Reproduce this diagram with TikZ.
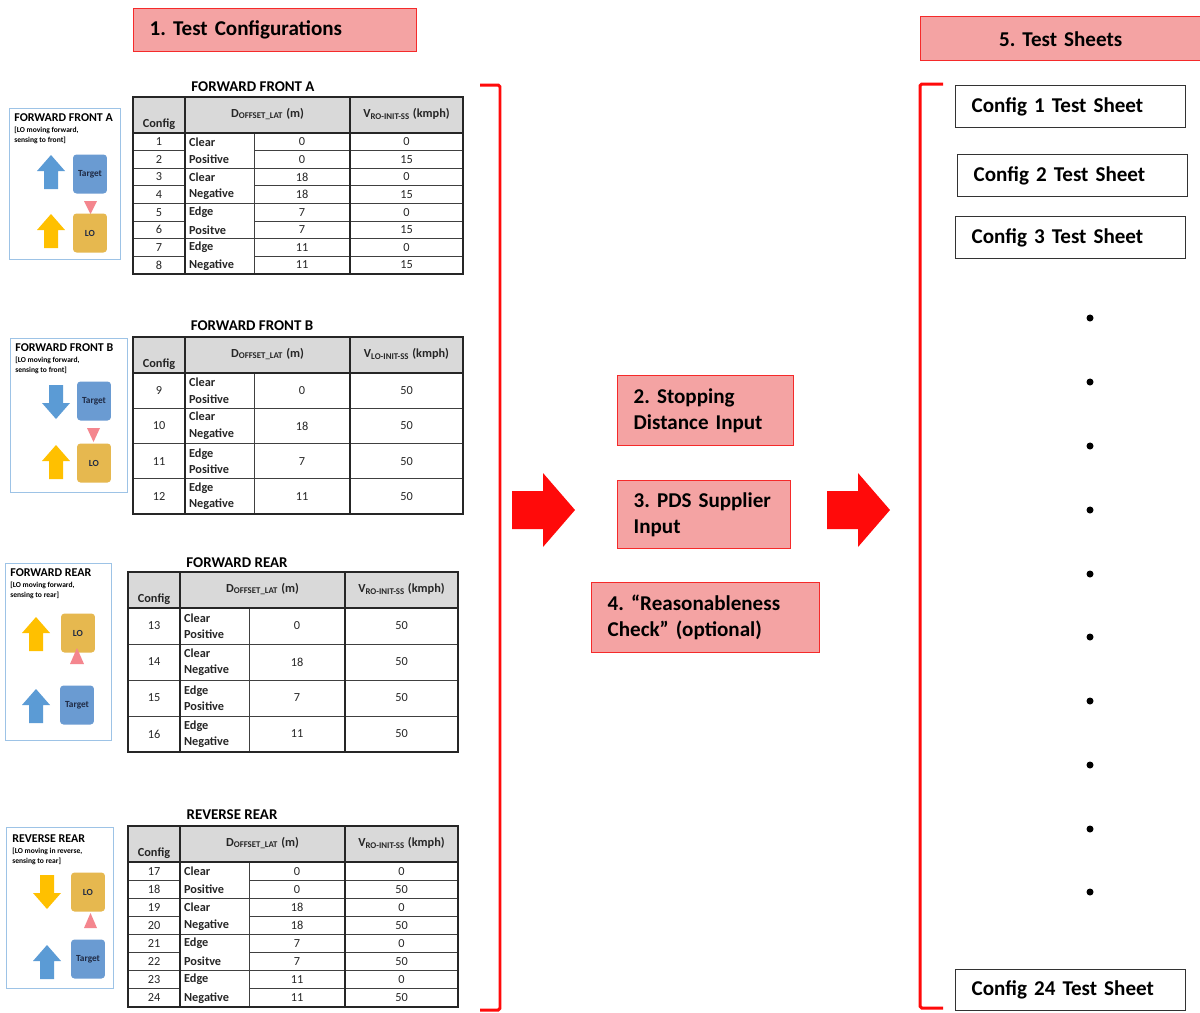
\documentclass[tikz,border=0pt]{standalone}
\usepackage{fontspec}
\setmainfont{Carlito}
\frenchspacing

\definecolor{boxred}{HTML}{F52A2A}
\definecolor{boxpink}{HTML}{F4A3A3}
\definecolor{bracketred}{HTML}{FF0A0A}
\definecolor{headgray}{HTML}{D9D9D9}
\definecolor{panelblue}{HTML}{9DC3E6}
\definecolor{arrowblue}{HTML}{5B9BD5}
\definecolor{arrowgold}{HTML}{FFC000}
\definecolor{targetblue}{HTML}{6A9BD2}
\definecolor{logold}{HTML}{E6B84F}
\definecolor{sensorpink}{HTML}{F4868E}
\definecolor{inkdark}{HTML}{1F2A44}

\tikzset{
  stepbox/.style={draw=boxred, fill=boxpink, line width=0.8pt, anchor=north west,
    align=left, inner xsep=0.32cm, inner ysep=0pt,
    font=\bfseries\fontsize{12}{14.7}\selectfont},
  sheetbox/.style={draw=black!80, fill=white, line width=0.8pt, anchor=north west,
    align=left, minimum height=0.84cm, text width=3.96cm, inner xsep=0.32cm,
    font=\bfseries\fontsize{12}{14.7}\selectfont},
  bracket/.style={bracketred, line width=1.7pt, rounded corners=1pt},
  thinrule/.style={line width=0.45pt, black!75},
  thickrule/.style={line width=1pt, black!85},
  cellhead/.style={inner sep=1pt, text=black!85, font=\bfseries\fontsize{7}{8.4}\selectfont},
  cellnum/.style={inner sep=1pt, text=black!85, font=\fontsize{7}{8.4}\selectfont},
  cellword/.style={anchor=west, align=left, inner sep=1pt, text=black!85,
    font=\bfseries\fontsize{7}{9.3}\selectfont},
  tabletitle/.style={inner sep=0pt, font=\bfseries\fontsize{8.5}{10}\selectfont},
  panel/.style={draw=panelblue, line width=0.6pt, anchor=north west},
  paneltitle/.style={anchor=west, inner sep=0pt, font=\bfseries\fontsize{6.8}{8}\selectfont},
  panelnote/.style={anchor=north west, align=left, inner sep=0pt,
    font=\bfseries\fontsize{4.3}{5.7}\selectfont},
  carbox/.style={rounded corners=2pt, minimum width=0.68cm, minimum height=0.78cm,
    inner sep=0pt, text=inkdark, font=\bfseries\fontsize{5.3}{6}\selectfont},
  movearrow/.pic={
    \fill[pic actions] (0,-17) -- (14,-1) -- (7,-1) -- (7,17) -- (-7,17) -- (-7,-1) -- (-14,-1) -- cycle;
  },
  bigarrow/.pic={
    \fill[pic actions] (-31,-19) -- (0,-19) -- (0,-37) -- (32,0) -- (0,37) -- (0,19) -- (-31,19) -- cycle;
  }
}

% grid of one config table: #1 name, #2 rows, #3 row height, #4 rows per class cell, #5 speed label
\newcommand{\cfgframe}[5]{%
  \pgfmathsetmacro{\tbot}{36+#2*#3}
  \pgfmathtruncatemacro{\tlast}{#2-1}
  \fill[headgray] (0,0) rectangle (330,36);
  \foreach \row in {1,...,\tlast}{
    \pgfmathsetmacro{\rowy}{36+\row*#3}
    \pgfmathtruncatemacro{\rowmod}{mod(\row,#4)}
    \draw[thinrule] (0,\rowy) -- (52,\rowy) (121,\rowy) -- (330,\rowy);
    \ifnum\rowmod=0 \draw[thinrule] (52,\rowy) -- (121,\rowy); \fi
  }
  \draw[thinrule] (121,36) -- (121,\tbot);
  \draw[thickrule] (52,0) -- (52,\tbot) (217,0) -- (217,\tbot) (0,36) -- (330,36);
  \draw[thickrule] (0,0) rectangle (330,\tbot);
  \node[cellhead, anchor=south] (#1-config) at (26,35) {Config};
  \node[cellhead] (#1-offset) at (134.5,17) {D\textsubscript{OFFSET\_LAT} (m)};
  \node[cellhead] (#1-speed) at (273.5,17) {V\textsubscript{#5} (kmph)};
}

\begin{document}
\begin{tikzpicture}[x=0.02cm, y=-0.02cm]
\useasboundingbox (0,0) rectangle (1200,1012);
\fill[white] (0,0) rectangle (1200,1012);

% Step headers
\node[stepbox, text width=5.02cm, minimum height=0.86cm] (configs) at (133,8) {1. Test Configurations};
\node[stepbox, align=center, text width=4.96cm, minimum height=0.88cm] (sheets) at (920,16) {5. Test Sheets};

% ---------- Forward front A ----------
\node[panel, minimum width=2.22cm, minimum height=3.02cm] (ffa-panel) at (9,108) {};
\node[paneltitle] (ffa-label) at (14,118) {FORWARD FRONT A};
\node[panelnote] (ffa-note) at (14,127) {[LO moving forward,\\sensing to front]};
\pic[fill=arrowblue] at (51,172) {movearrow};
\node[carbox, fill=targetblue] (ffa-target) at (90,174) {Target};
\fill[sensorpink] (84,201) -- (97,201) -- (90.5,214) -- cycle;
\pic[fill=arrowgold] at (51,231) {movearrow};
\node[carbox, fill=logold] (ffa-lo) at (90,233) {LO};

\node[tabletitle] (ffa-title) at (253,87) {FORWARD FRONT A};
\begin{scope}[shift={(133,97)}]
  \cfgframe{ffa}{8}{17.6}{2}{RO-INIT-SS}
  \foreach \n/\cls/\dval/\vval [count=\i] in {1/Clear/0/0, 2/Positive/0/15, 3/Clear/18/0, 4/Negative/18/15,
      5/Edge/7/0, 6/Positve/7/15, 7/Edge/11/0, 8/Negative/11/15}{
    \pgfmathsetmacro{\rowy}{36+(\i-0.5)*17.6}
    \node[cellnum] (ffa-n\i) at (26,\rowy) {\n};
    \node[cellword] (ffa-c\i) at (54,\rowy) {\cls};
    \node[cellnum] (ffa-d\i) at (169,\rowy) {\dval};
    \node[cellnum] (ffa-v\i) at (273.5,\rowy) {\vval};
  }
\end{scope}

% ---------- Forward front B ----------
\node[panel, minimum width=2.34cm, minimum height=3.08cm] (ffb-panel) at (10,338) {};
\node[paneltitle] (ffb-label) at (15,348) {FORWARD FRONT B};
\node[panelnote] (ffb-note) at (15,357) {[LO moving forward,\\sensing to front]};
\pic[fill=arrowblue, rotate=180] at (56,402) {movearrow};
\node[carbox, fill=targetblue] (ffb-target) at (94,401) {Target};
\fill[sensorpink] (87,428) -- (100,428) -- (93.5,442) -- cycle;
\pic[fill=arrowgold] at (56,462) {movearrow};
\node[carbox, fill=logold] (ffb-lo) at (94,463) {LO};

\node[tabletitle] (ffb-title) at (252,326) {FORWARD FRONT B};
\begin{scope}[shift={(133,337)}]
  \cfgframe{ffb}{4}{35.25}{1}{LO-INIT-SS}
  \foreach \n/\cls/\dval/\vval [count=\i] in {9/{Clear\\Positive}/0/50, 10/{Clear\\Negative}/18/50,
      11/{Edge\\Positive}/7/50, 12/{Edge\\Negative}/11/50}{
    \pgfmathsetmacro{\rowy}{36+(\i-0.5)*35.25}
    \node[cellnum] (ffb-n\i) at (26,\rowy) {\n};
    \node[cellword] (ffb-c\i) at (54,\rowy) {\cls};
    \node[cellnum] (ffb-d\i) at (169,\rowy) {\dval};
    \node[cellnum] (ffb-v\i) at (273.5,\rowy) {\vval};
  }
\end{scope}

% ---------- Forward rear ----------
\node[panel, minimum width=2.12cm, minimum height=3.54cm] (fwr-panel) at (5,563) {};
\node[paneltitle] (fwr-label) at (10,573) {FORWARD REAR};
\node[panelnote] (fwr-note) at (10,582) {[LO moving forward,\\sensing to rear]};
\pic[fill=arrowgold] at (36,634) {movearrow};
\node[carbox, fill=logold] (fwr-lo) at (78,633) {LO};
\fill[sensorpink] (77,648) -- (84,664) -- (70,664) -- cycle;
\pic[fill=arrowblue] at (36,706) {movearrow};
\node[carbox, fill=targetblue] (fwr-target) at (77,705) {Target};

\node[tabletitle] (fwr-title) at (237,563) {FORWARD REAR};
\begin{scope}[shift={(128,572)}]
  \cfgframe{fwr}{4}{36}{1}{RO-INIT-SS}
  \foreach \n/\cls/\dval/\vval [count=\i] in {13/{Clear\\Positive}/0/50, 14/{Clear\\Negative}/18/50,
      15/{Edge\\Positive}/7/50, 16/{Edge\\Negative}/11/50}{
    \pgfmathsetmacro{\rowy}{36+(\i-0.5)*36}
    \node[cellnum] (fwr-n\i) at (26,\rowy) {\n};
    \node[cellword] (fwr-c\i) at (54,\rowy) {\cls};
    \node[cellnum] (fwr-d\i) at (169,\rowy) {\dval};
    \node[cellnum] (fwr-v\i) at (273.5,\rowy) {\vval};
  }
\end{scope}

% ---------- Reverse rear ----------
\node[panel, minimum width=2.14cm, minimum height=3.22cm] (rvr-panel) at (6,827) {};
\node[paneltitle] (rvr-label) at (12,839) {REVERSE REAR};
\node[panelnote] (rvr-note) at (12,848) {[LO moving in reverse,\\sensing to rear]};
\pic[fill=arrowgold, rotate=180] at (47,892) {movearrow};
\node[carbox, fill=logold] (rvr-lo) at (88,892) {LO};
\fill[sensorpink] (90.5,913) -- (97,928) -- (84,928) -- cycle;
\pic[fill=arrowblue] at (47,962) {movearrow};
\node[carbox, fill=targetblue] (rvr-target) at (88,959) {Target};

\node[tabletitle] (rvr-title) at (232,815) {REVERSE REAR};
\begin{scope}[shift={(128,826)}]
  \cfgframe{rvr}{8}{18.1}{2}{RO-INIT-SS}
  \foreach \n/\cls/\dval/\vval [count=\i] in {17/Clear/0/0, 18/Positive/0/50, 19/Clear/18/0, 20/Negative/18/50,
      21/Edge/7/0, 22/Positve/7/50, 23/Edge/11/0, 24/Negative/11/50}{
    \pgfmathsetmacro{\rowy}{36+(\i-0.5)*18.1}
    \node[cellnum] (rvr-n\i) at (26,\rowy) {\n};
    \node[cellword] (rvr-c\i) at (54,\rowy) {\cls};
    \node[cellnum] (rvr-d\i) at (169,\rowy) {\dval};
    \node[cellnum] (rvr-v\i) at (273.5,\rowy) {\vval};
  }
\end{scope}

% Brackets round the configs and the sheets
\draw[bracket] (480,85) -- (500,85) -- (500,1010) -- (480,1010);
\draw[bracket] (943,84) -- (920,84) -- (920,1008) -- (943,1008);

% Inputs in the middle
\pic[fill=bracketred] at (543,510) {bigarrow};
\node[stepbox, text width=2.88cm, minimum height=1.4cm] (stopdist) at (617,375) {2. Stopping\\Distance Input};
\node[stepbox, text width=2.82cm, minimum height=1.36cm] (supplier) at (617,480) {3. PDS Supplier\\Input};
\node[stepbox, text width=3.92cm, minimum height=1.4cm] (reasonable) at (591,582) {4. “Reasonableness\\Check” (optional)};
\pic[fill=bracketred] at (858,510) {bigarrow};

% Test sheets
\node[sheetbox] (sheet1) at (955,85) {Config 1 Test Sheet};
\node[sheetbox] (sheet2) at (957,154) {Config 2 Test Sheet};
\node[sheetbox] (sheet3) at (955,216) {Config 3 Test Sheet};
\foreach \y in {318,382,446,510,574,637,701,765,829,892}
  \fill (1090,\y) circle[radius=2pt];
\node[sheetbox, minimum height=0.82cm] (sheet24) at (955,969) {Config 24 Test Sheet};
\end{tikzpicture}
\end{document}
